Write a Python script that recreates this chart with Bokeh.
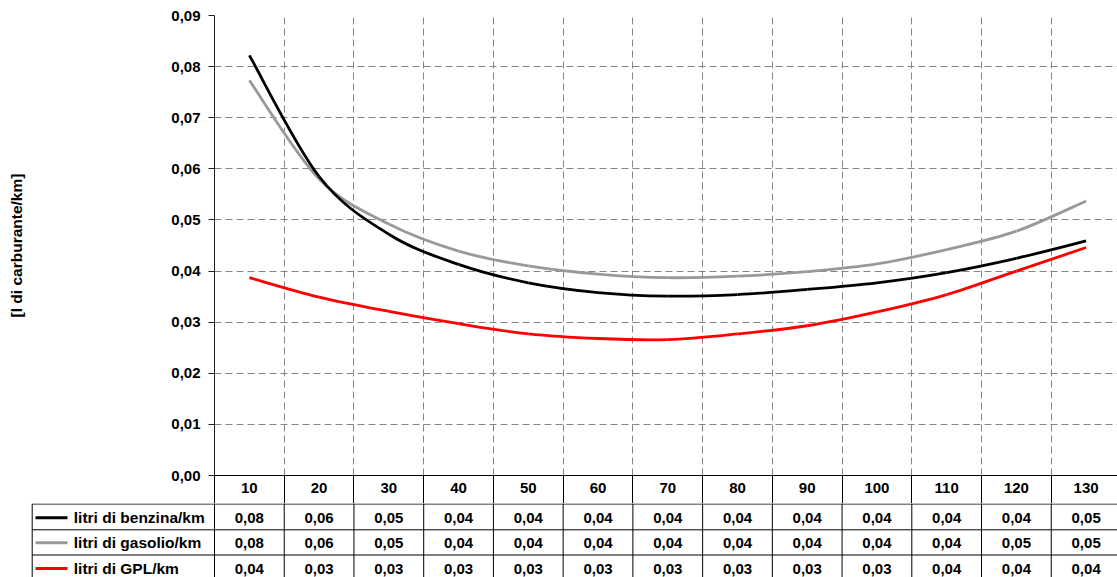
from bokeh.plotting import figure
from bokeh.models import Range1d, FixedTicker, CustomJSTickFormatter
from bokeh.core.properties import value
from bokeh.embed import file_html
from bokeh.resources import INLINE

# ---------------- data ----------------
speeds = [10, 20, 30, 40, 50, 60, 70, 80, 90, 100, 110, 120, 130]
benzina = [0.0822, 0.0585, 0.0472, 0.0413, 0.0377, 0.0358, 0.0351, 0.0354, 0.0364, 0.0377, 0.0397, 0.0425, 0.0459]
gasolio = [0.0773, 0.0580, 0.0492, 0.0439, 0.0410, 0.0394, 0.0387, 0.0390, 0.0399, 0.0414, 0.0442, 0.0478, 0.0537]
gpl = [0.0387, 0.0349, 0.0321, 0.0297, 0.0277, 0.0268, 0.0266, 0.0277, 0.0293, 0.0320, 0.0354, 0.0400, 0.0446]
series_names = ["litri di benzina/km", "litri di gasolio/km", "litri di GPL/km"]
series_colors = ["#000000", "#999999", "#ff0000"]
y_ticks = [0.00, 0.01, 0.02, 0.03, 0.04, 0.05, 0.06, 0.07, 0.08, 0.09]
y_label = "[l di carburante/km]"

# ---------------- layout constants ----------------
W = 1117
LEFT = 214
TOP_PAD = 15
HEADER_H = 28
FRAME_H = 460
TOP_H = TOP_PAD + FRAME_H + HEADER_H
TABLE_H = 577 - TOP_H
PXPU = 69.73 / 10.0          # pixels per km/h
X0 = speeds[0] - 5           # left boundary of first column
X_END = X0 + (W - LEFT) / PXPU
FONT = value("Liberation Sans")


def px2x(px):
    return X0 + (px - LEFT) / PXPU


def fmt(v):
    return f"{v:.2f}".replace(".", ",")


def bezier_segments(xs, ys):
    n = len(xs)
    out = dict(x0=[], y0=[], x1=[], y1=[], cx0=[], cy0=[], cx1=[], cy1=[])
    for i in range(n - 1):
        xp, yp = (xs[i - 1], ys[i - 1]) if i > 0 else (xs[i], ys[i])
        xn, yn = (xs[i + 2], ys[i + 2]) if i + 2 < n else (xs[i + 1], ys[i + 1])
        out["x0"].append(xs[i]); out["y0"].append(ys[i])
        out["x1"].append(xs[i + 1]); out["y1"].append(ys[i + 1])
        out["cx0"].append(xs[i] + (xs[i + 1] - xp) / 6.0)
        out["cy0"].append(ys[i] + (ys[i + 1] - yp) / 6.0)
        out["cx1"].append(xs[i + 1] - (xn - xs[i]) / 6.0)
        out["cy1"].append(ys[i + 1] - (yn - ys[i]) / 6.0)
    return out


bounds = [s - 5 for s in speeds]

# ---------------- chart ----------------
top = figure(width=W, height=TOP_H, x_range=Range1d(X0, X_END), y_range=Range1d(0, 0.09),
             output_backend="svg", toolbar_location=None,
             min_border_left=LEFT, min_border_right=0, min_border_top=TOP_PAD, min_border_bottom=HEADER_H)
top.outline_line_color = None
top.background_fill_color = "white"

grid_dash = "7 4"
top.ygrid.ticker = FixedTicker(ticks=y_ticks[1:])
top.ygrid.grid_line_color = "#858585"
top.ygrid.grid_line_dash = grid_dash
top.xgrid.ticker = FixedTicker(ticks=bounds[1:])
top.xgrid.grid_line_color = "#858585"
top.xgrid.grid_line_dash = grid_dash

ya = top.yaxis[0]
ya.ticker = FixedTicker(ticks=y_ticks)
ya.formatter = CustomJSTickFormatter(code="return tick.toFixed(2).replace('.', ',');")
ya.major_label_text_font = "Liberation Sans"
ya.major_label_text_font_style = "bold"
ya.major_label_text_font_size = "15px"
ya.major_label_text_color = "black"
ya.major_label_standoff = 8
ya.major_tick_in = 0
ya.major_tick_out = 6
ya.minor_tick_line_color = None
ya.axis_line_color = "#202020"
ya.major_tick_line_color = "#202020"
ya.axis_label = y_label
ya.axis_label_text_font = "Liberation Sans"
ya.axis_label_text_font_style = "bold"
ya.axis_label_text_font_size = "15.5px"
ya.axis_label_text_color = "black"
ya.axis_label_standoff = 143

# x axis = header row of the data table
xa = top.xaxis[0]
xa.ticker = FixedTicker(ticks=speeds, minor_ticks=bounds)
xa.major_label_overrides = {s: str(s) for s in speeds}
xa.major_label_text_font = "Liberation Sans"
xa.major_label_text_font_style = "bold"
xa.major_label_text_font_size = "15px"
xa.major_label_text_color = "black"
xa.major_label_standoff = 7 - HEADER_H
xa.major_tick_line_color = None
xa.major_tick_in = 0
xa.major_tick_out = 0
xa.minor_tick_in = 0
xa.minor_tick_out = HEADER_H
xa.minor_tick_line_color = "#000000"
xa.axis_line_color = "#000000"

for ys, c in zip([gasolio, gpl, benzina], [series_colors[1], series_colors[2], series_colors[0]]):
    seg = bezier_segments(speeds, ys)
    top.bezier(line_color=c, line_width=2.8, **seg)

# ---------------- data table ----------------
tbl = figure(width=W, height=TABLE_H, x_range=Range1d(px2x(0), X_END), y_range=Range1d(TABLE_H, 0),
             x_axis_location=None, y_axis_location=None, output_backend="svg", toolbar_location=None,
             min_border=0)
tbl.outline_line_color = None
tbl.grid.visible = False

row_lines = [0.5, 26.3, 51.5]
row_centers = [14.3, 39.3, 65.0]
legend_left = px2x(31.7)
line_col = "#000000"

tbl.segment(x0=[legend_left] * len(row_lines), y0=row_lines, x1=[X_END] * len(row_lines), y1=row_lines,
            line_color=line_col, line_width=1)
tbl.segment(x0=bounds, y0=[0] * len(bounds), x1=bounds, y1=[TABLE_H] * len(bounds),
            line_color=line_col, line_width=1)
tbl.segment(x0=[legend_left], y0=[0], x1=[legend_left], y1=[TABLE_H],
            line_color=line_col, line_width=1)

for ys, yc, name, c in zip([benzina, gasolio, gpl], row_centers, series_names, series_colors):
    tbl.text(x=speeds, y=[yc] * len(speeds), text=[fmt(v) for v in ys],
             text_font=FONT, text_font_style="bold", text_font_size="15px",
             text_align="center", text_baseline="middle", text_color="black")
    tbl.segment(x0=[px2x(35)], y0=[yc], x1=[px2x(67)], y1=[yc], line_color=c, line_width=3)
    tbl.text(x=[px2x(73.3)], y=[yc], text=[name],
             text_font=FONT, text_font_style="bold", text_font_size="15.5px",
             text_align="left", text_baseline="middle", text_color="black")

open("out.html", "w").write(file_html([top, tbl], INLINE))
